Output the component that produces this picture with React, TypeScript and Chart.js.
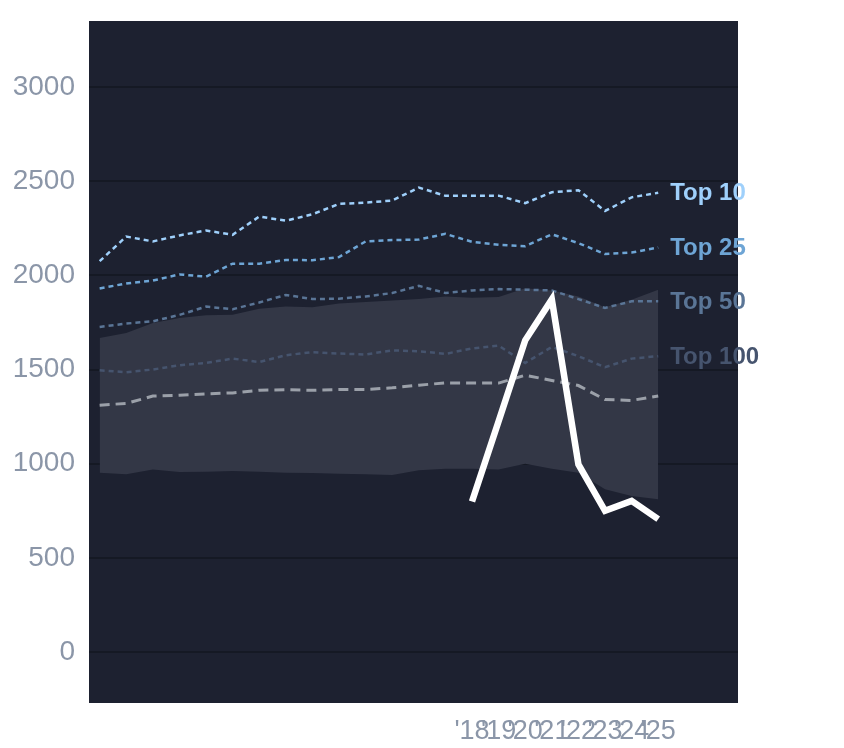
import React, { useEffect, useRef } from 'react';
import Chart from 'chart.js/auto';

const years = [2004, 2005, 2006, 2007, 2008, 2009, 2010, 2011, 2012, 2013, 2014, 2015, 2016, 2017, 2018, 2019, 2020, 2021, 2022, 2023, 2024, 2025];
const top10 = [2075, 2206, 2180, 2212, 2238, 2215, 2312, 2290, 2324, 2379, 2386, 2397, 2466, 2422, 2422, 2423, 2383, 2441, 2452, 2342, 2414, 2438];
const top25 = [1930, 1957, 1972, 2005, 1993, 2062, 2062, 2082, 2080, 2097, 2180, 2187, 2190, 2220, 2178, 2162, 2155, 2218, 2171, 2113, 2121, 2148];
const top50 = [1726, 1744, 1756, 1790, 1834, 1820, 1856, 1896, 1874, 1876, 1888, 1906, 1944, 1906, 1920, 1927, 1924, 1920, 1874, 1827, 1862, 1862];
const top100 = [1496, 1486, 1500, 1523, 1535, 1558, 1540, 1576, 1592, 1585, 1580, 1602, 1597, 1583, 1612, 1627, 1535, 1620, 1571, 1512, 1558, 1571];
const median = [1311, 1320, 1359, 1364, 1371, 1376, 1390, 1393, 1390, 1394, 1394, 1403, 1417, 1429, 1428, 1428, 1470, 1442, 1415, 1341, 1336, 1360];
const bandHigh = [1667, 1694, 1747, 1773, 1788, 1791, 1823, 1834, 1830, 1850, 1858, 1866, 1874, 1888, 1881, 1885, 1932, 1920, 1888, 1830, 1871, 1924];
const bandLow = [952, 944, 970, 956, 958, 961, 958, 952, 951, 947, 944, 940, 965, 974, 973, 970, 1000, 974, 952, 864, 829, 811];

const recentYears = [2018, 2019, 2020, 2021, 2022, 2023, 2024, 2025];
const recent = [800, 1225, 1655, 1872, 997, 750, 803, 706];

const yTicks = [0, 500, 1000, 1500, 2000, 2500, 3000];

const tiers = [
  { label: 'Top 10', values: top10, color: '#9fd0fb' },
  { label: 'Top 25', values: top25, color: '#6ea5d5' },
  { label: 'Top 50', values: top50, color: '#5a7596' },
  { label: 'Top 100', values: top100, color: '#46546e' },
];

const font = '"Liberation Sans", Arial, sans-serif';

const pts = (xs: number[], ys: number[]) => xs.map((x, i) => ({ x, y: ys[i] }));

const plotBg = {
  id: 'plotBg',
  beforeDraw(chart: any) {
    const { ctx, chartArea: a } = chart;
    ctx.save();
    ctx.fillStyle = '#1d2130';
    ctx.fillRect(a.left, a.top, a.right - a.left, a.bottom - a.top);
    ctx.restore();
  },
};

const endLabels = {
  id: 'endLabels',
  afterDatasetsDraw(chart: any) {
    const { ctx } = chart;
    const xs = chart.scales.x;
    const ys = chart.scales.y;
    ctx.save();
    ctx.font = `bold 24px ${font}`;
    ctx.textBaseline = 'middle';
    ctx.textAlign = 'left';
    tiers.forEach((t) => {
      const last = t.values.length - 1;
      ctx.fillStyle = t.color;
      ctx.fillText(t.label, xs.getPixelForValue(years[last]) + 12, ys.getPixelForValue(t.values[last]) + 1);
    });
    ctx.restore();
  },
};

const App: React.FC = () => {
  const canvasRef = useRef<HTMLCanvasElement>(null);

  useEffect(() => {
    document.body.style.margin = '0';
    if (!canvasRef.current) return;
    const ctx = canvasRef.current.getContext('2d');
    if (!ctx) return;

    const chart = new Chart(ctx, {
      type: 'line',
      data: {
        datasets: [
          {
            data: pts(recentYears, recent),
            borderColor: '#ffffff',
            borderWidth: 6.5,
            order: 0,
          },
          ...tiers.map((t, i) => ({
            data: pts(years, t.values),
            borderColor: t.color,
            borderWidth: 2.5,
            borderDash: [5, 4],
            order: 1 + i,
          })),
          {
            data: pts(years, median),
            borderColor: '#9ba0a9',
            borderWidth: 3,
            borderDash: [10, 6],
            order: 6,
          },
          {
            data: pts(years, bandHigh),
            borderWidth: 0,
            borderColor: 'rgba(0,0,0,0)',
            backgroundColor: '#333746',
            fill: '+1',
            order: 8,
          },
          {
            data: pts(years, bandLow),
            borderWidth: 0,
            borderColor: 'rgba(0,0,0,0)',
            fill: false,
            order: 9,
          },
        ] as any,
      },
      options: {
        animation: false,
        responsive: false,
        maintainAspectRatio: false,
        layout: { padding: { top: 21, right: 106, left: 0, bottom: 0 } },
        elements: { point: { radius: 0 }, line: { tension: 0 } },
        plugins: { legend: { display: false }, tooltip: { enabled: false } },
        scales: {
          x: {
            type: 'linear',
            min: 2003.6,
            max: 2028,
            grid: { display: false, drawTicks: false },
            border: { display: false },
            afterFit: (s: any) => {
              s.height = 45;
              s.paddingLeft = 0;
              s.paddingRight = 0;
            },
            afterBuildTicks: (s: any) => { s.ticks = recentYears.map((v) => ({ value: v })); },
            ticks: {
              autoSkip: false,
              maxRotation: 0,
              padding: 12,
              color: '#8b96a8',
              font: { family: font, size: 27 },
              callback: (v: any) => "'" + String(v).slice(2),
            },
          },
          y: {
            min: -270,
            max: 3350,
            grid: { color: '#151924', lineWidth: 2, drawTicks: false },
            border: { display: false },
            afterFit: (s: any) => {
              s.width = 89;
              s.paddingTop = 0;
              s.paddingBottom = 0;
            },
            afterBuildTicks: (s: any) => { s.ticks = yTicks.map((v) => ({ value: v })); },
            ticks: {
              autoSkip: false,
              padding: 14,
              color: '#8b96a8',
              font: { family: font, size: 28 },
              callback: (v: any) => String(v),
            },
          },
        },
      },
      plugins: [plotBg, endLabels],
    });

    return () => {
      chart.destroy();
    };
  }, []);

  return (
    <div style={{ width: 844, height: 748 }}>
      <canvas ref={canvasRef} width={844} height={748} style={{ width: 844, height: 748 }}></canvas>
    </div>
  );
};

export default App;
